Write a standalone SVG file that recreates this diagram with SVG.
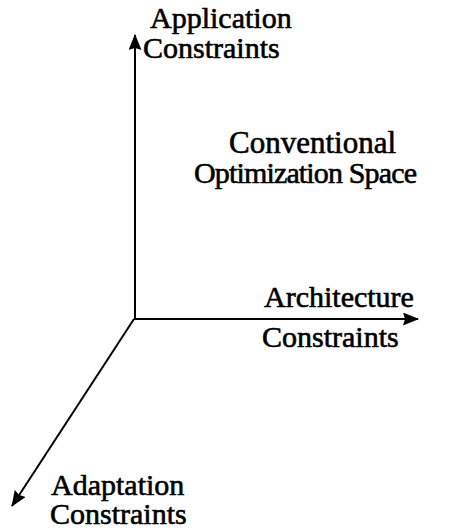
<svg xmlns="http://www.w3.org/2000/svg" width="450" height="530" viewBox="0 0 450 530">
  <style>
    .lbl { font-family: "Liberation Serif", "Times New Roman", serif; font-size: 30px; fill: #000; stroke: #000; stroke-width: 0.6px; }
    .axis { stroke: #000; stroke-width: 2; fill: none; }
  </style>
  <defs>
    <marker id="head" viewBox="0 0 16 13" refX="15" refY="6.5" markerWidth="16" markerHeight="13" markerUnits="userSpaceOnUse" orient="auto">
      <path d="M0,0 L16,6.5 L0,13 L2,6.5 Z" fill="#000"/>
    </marker>
  </defs>
  <rect width="450" height="530" fill="#fff"/>

  <!-- three constraint axes from the common origin -->
  <g id="axes">
    <line class="axis" x1="135" y1="319" x2="135" y2="35" marker-end="url(#head)"/>
    <line class="axis" x1="134" y1="319" x2="418" y2="319" marker-end="url(#head)"/>
    <line class="axis" x1="134" y1="319" x2="12" y2="506" marker-end="url(#head)"/>
  </g>

  <g id="application">
    <text class="lbl" x="150" y="28">Application</text>
    <text class="lbl" x="143" y="58">Constraints</text>
  </g>

  <g id="conventional">
    <text class="lbl" x="229" y="153" style="font-size:31px">Conventional</text>
    <text class="lbl" x="194" y="183" textLength="223">Optimization Space</text>
  </g>

  <g id="architecture">
    <text class="lbl" x="264" y="307">Architecture</text>
    <text class="lbl" x="262" y="347">Constraints</text>
  </g>

  <g id="adaptation">
    <text class="lbl" x="51" y="495">Adaptation</text>
    <text class="lbl" x="50" y="524">Constraints</text>
  </g>
</svg>
